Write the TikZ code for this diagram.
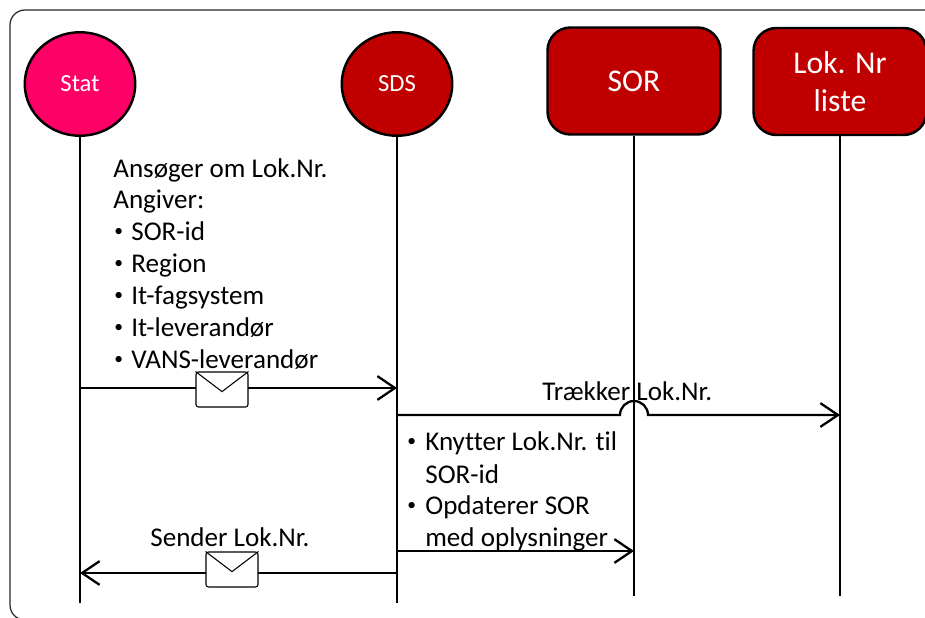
\documentclass[tikz,border=0pt]{standalone}
\usepackage{fontspec}
\setmainfont[Ligatures=NoCommon]{Carlito}
\usetikzlibrary{arrows.meta,shapes.geometric}
\tikzset{
	actorround/.style={ellipse, draw=black, line width=1.4pt, inner sep=0pt, minimum width=22.1mm, minimum height=20.7mm, text=white, font=\fontsize{14}{17}\selectfont},
	actorbox/.style={rectangle, rounded corners=4.6mm, draw=black, line width=1.4pt, fill=sosred, minimum width=34.6mm, minimum height=21.4mm, inner sep=0pt, text=white, align=center, font=\fontsize{18}{21.5}\selectfont},
	lifeline/.style={line width=1.3pt},
	message/.style={line width=1.3pt, -{Straight Barb[length=10pt,width=13.5pt,line width=1.3pt]}},
	envelope/.style={rectangle, rounded corners=0.5mm, draw=black, line width=0.6pt, fill=white, minimum width=10.4mm, minimum height=7mm, inner sep=0pt},
	caption/.style={anchor=base west, inner sep=0pt, font=\fontsize{15.4}{18}\selectfont},
	dot/.style={anchor=base west, inner sep=0pt, font=\fontsize{10}{12}\selectfont},
}
\definecolor{sosred}{HTML}{C00000}
\definecolor{statpink}{HTML}{FF0066}
\begin{document}
\begin{tikzpicture}[x=0.2mm,y=-0.2mm]
	\useasboundingbox (0,0) rectangle (925,617);
	\clip (0,0) rectangle (925,617);
	\draw [line width=0.7pt, draw=black!85, rounded corners=3mm] (10,10) rectangle (940,620);

	\node [actorround, fill=statpink] (Stat) at (80,84) {Stat};
	\node [actorround, fill=sosred] (SDS) at (397,84) {SDS};
	\node [actorbox] (SOR) at (634,81) {SOR};
	\node [actorbox] (LokNr) at (840,81.5) {Lok. Nr\\liste};

	\coordinate (StatEnd) at (80,603);
	\coordinate (SDSEnd) at (397,603);
	\coordinate (SOREnd) at (634,596);
	\coordinate (LokNrEnd) at (840,596);
	\draw [lifeline] (Stat) -- (StatEnd);
	\draw [lifeline] (SDS) -- (SDSEnd);
	\draw [lifeline] (SOR) -- (SOREnd);
	\draw [lifeline] (LokNr) -- (LokNrEnd);

	\coordinate (AskFrom) at (80,388);
	\coordinate (AskTo) at (397,388);
	\coordinate (PullFrom) at (397,415);
	\coordinate (JumpLeft) at (620,415);
	\coordinate (PullTo) at (840,415);
	\coordinate (UpdateFrom) at (397,551);
	\coordinate (UpdateTo) at (634,551);
	\coordinate (SendFrom) at (397,573);
	\coordinate (SendTo) at (80,573);
	\draw [message] (AskFrom) -- (AskTo);
	\draw [message] (PullFrom) -- (JumpLeft) arc [start angle=180, end angle=360, radius=14] -- (PullTo);
	\draw [message, line width=0.9pt] (UpdateFrom) -- (UpdateTo);
	\draw [message] (SendFrom) -- (SendTo);

	\node [envelope] (AskMail) at (222,389.5) {};
	\draw [line width=0.6pt] (AskMail.north west) -- ([yshift=-1.2pt]AskMail.center) -- (AskMail.north east);
	\node [envelope] (SendMail) at (232,569.5) {};
	\draw [line width=0.6pt] (SendMail.north west) -- ([yshift=-1.2pt]SendMail.center) -- (SendMail.north east);

	\node [caption] (Ask1) at (113,177) {Ansøger om Lok.Nr.};
	\node [caption] (Ask2) at (113,208) {Angiver:};
	\node [dot] (Bul1) at (114,236) {•};
	\node [caption] (Ask3) at (131,240) {SOR-id};
	\node [dot] (Bul2) at (114,268) {•};
	\node [caption] (Ask4) at (131,272) {Region};
	\node [dot] (Bul3) at (114,300) {•};
	\node [caption] (Ask5) at (131,304) {It-fagsystem};
	\node [dot] (Bul4) at (114,332) {•};
	\node [caption] (Ask6) at (131,336) {It-leverandør};
	\node [dot] (Bul5) at (114,364) {•};
	\node [caption] (Ask7) at (131,368) {VANS-leverandør};

	\node [caption] (Pull) at (542,400) {Trækker Lok.Nr.};

	\node [dot] (Bul6) at (407,446) {•};
	\node [caption] (Link1) at (425,450) {Knytter Lok.Nr. til};
	\node [caption] (Link2) at (425,483) {SOR-id};
	\node [dot] (Bul7) at (407,510) {•};
	\node [caption] (Link3) at (425,514) {Opdaterer SOR};
	\node [caption] (Link4) at (425,546) {med oplysninger};

	\node [caption] (Send) at (150,546) {Sender Lok.Nr.};
\end{tikzpicture}
\end{document}
